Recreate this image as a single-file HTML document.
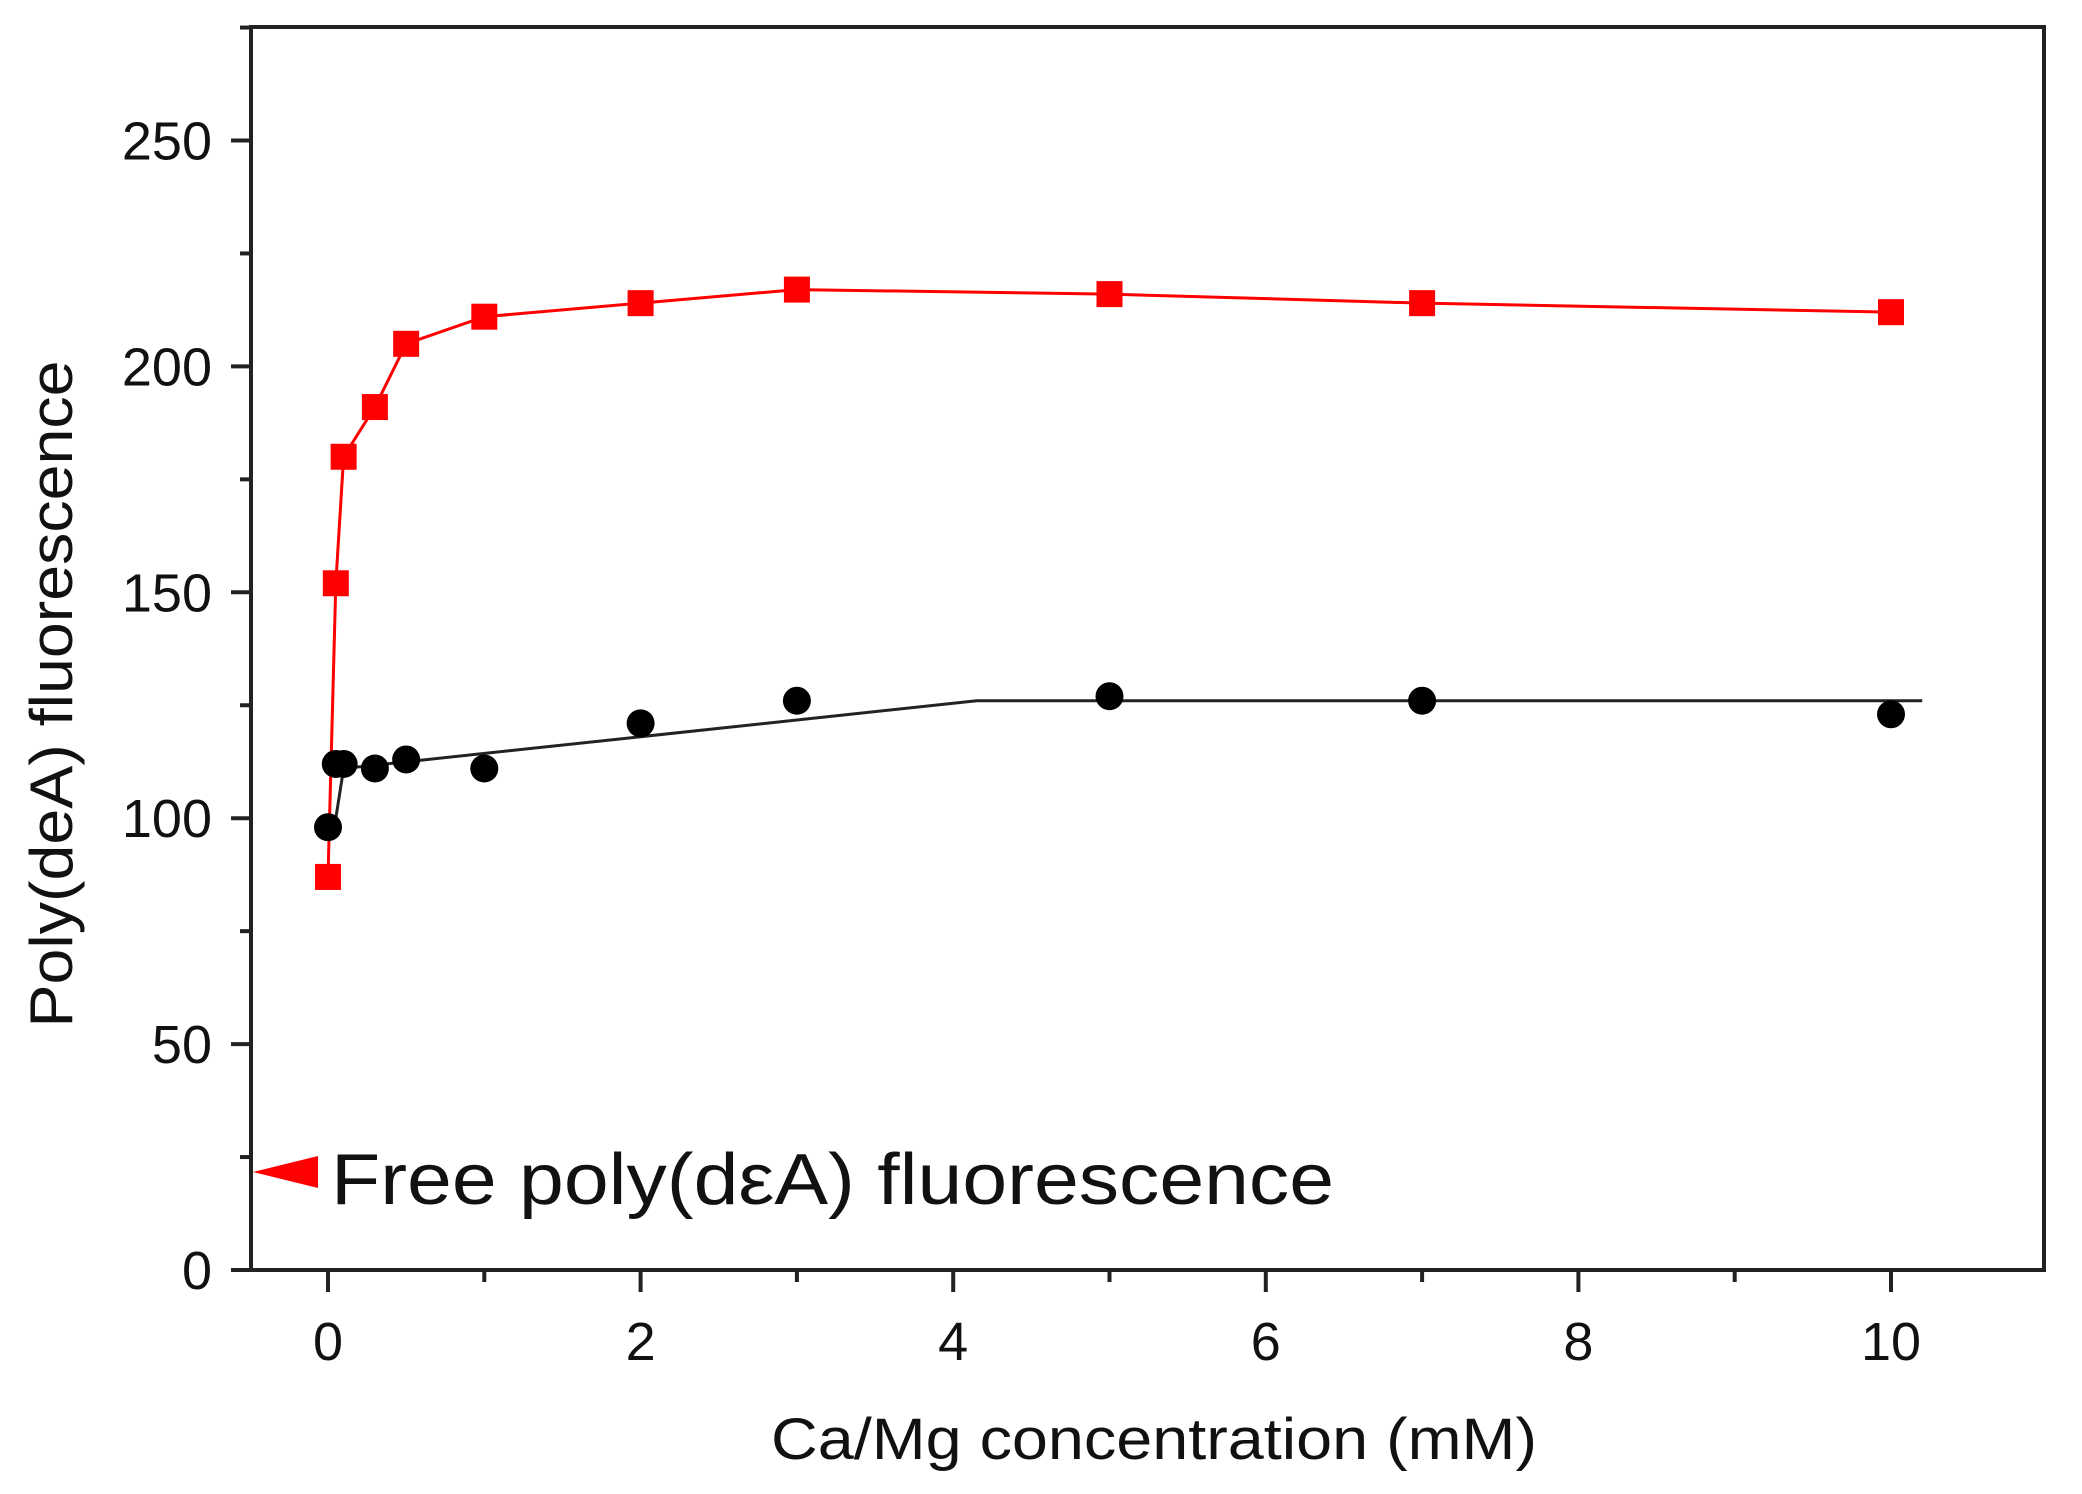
<!DOCTYPE html>
<html><head><meta charset="utf-8"><style>
html,body{margin:0;padding:0;background:#fff}
svg{display:block}
text{font-family:"Liberation Sans",sans-serif;fill:#111}
</style></head><body>
<svg id="chart" width="2082" height="1494" viewBox="0 0 2082 1494">
<g id="axes"></g><g id="series"></g>
<text x="0" y="0" font-size="60" text-anchor="middle" transform="translate(72,694) rotate(-90)" textLength="667" lengthAdjust="spacingAndGlyphs">Poly(deA) fluorescence</text>
<text x="1154" y="1459" font-size="58" text-anchor="middle" textLength="766" lengthAdjust="spacingAndGlyphs">Ca/Mg concentration (mM)</text>
<polygon points="253,1172 318,1156 318,1188" fill="#ff0000"/>
<text x="331" y="1204" font-size="72" textLength="1003" lengthAdjust="spacingAndGlyphs">Free poly(dεA) fluorescence</text>
</svg>
<script>
const xCats=[0,0.05,0.1,0.3,0.5,1,2,3,5,7,10];
const redVals=[87,152,180,191,205,211,214,217,216,214,212];
const blackVals=[98,112,112,111,113,111,121,126,127,126,123];
const blackFitX=[0.05,0.1,4.15,10.2];
const blackFitY=[100,111,126,126];
const xTicks=[0,2,4,6,8,10];
const yTicks=[0,50,100,150,200,250];
const L=251,R=2044,T=27,B=1270;
function sx(v){return 328+v*156.3;}
function sy(v){return 1270-v*4.518;}
const NS="http://www.w3.org/2000/svg";
function mk(tag,attrs,parent){const e=document.createElementNS(NS,tag);for(const k in attrs)e.setAttribute(k,attrs[k]);parent.appendChild(e);return e;}
const ax=document.getElementById('axes'),se=document.getElementById('series');
const frame=mk('rect',{x:L,y:T,width:R-L,height:B-T,fill:'none',stroke:'#222','stroke-width':4},ax);


for(let v=0;v<=275;v+=25){const maj=v%50===0;const t=mk('line',{x1:L,x2:L-(maj?20:11),y1:sy(v),y2:sy(v),stroke:'#222','stroke-width':4},ax);

}
yTicks.forEach(v=>{const t=mk('text',{x:212,y:sy(v)+19,'font-size':54,'text-anchor':'end'},ax);t.textContent=v;

});
for(let v=0;v<=10;v+=1){const maj=v%2===0;const t=mk('line',{x1:sx(v),x2:sx(v),y1:B,y2:B+(maj?22:12),stroke:'#222','stroke-width':4},ax);

}
xTicks.forEach(v=>{const t=mk('text',{x:sx(v),y:1360,'font-size':54,'text-anchor':'middle'},ax);t.textContent=v;

});
const rl=mk('polyline',{points:xCats.map((x,i)=>sx(x)+','+sy(redVals[i])).join(' '),fill:'none',stroke:'#ff0000','stroke-width':3},se);


const bl=mk('polyline',{points:blackFitX.map((x,i)=>sx(x)+','+sy(blackFitY[i])).join(' '),fill:'none',stroke:'#222','stroke-width':3},se);


xCats.forEach((x,i)=>{const c=mk('circle',{cx:sx(x),cy:sy(blackVals[i]),r:14,fill:'#000'},se);

});
xCats.forEach((x,i)=>{const r=mk('rect',{x:sx(x)-13,y:sy(redVals[i])-13,width:26,height:26,fill:'#ff0000'},se);

});
</script>
</body></html>
